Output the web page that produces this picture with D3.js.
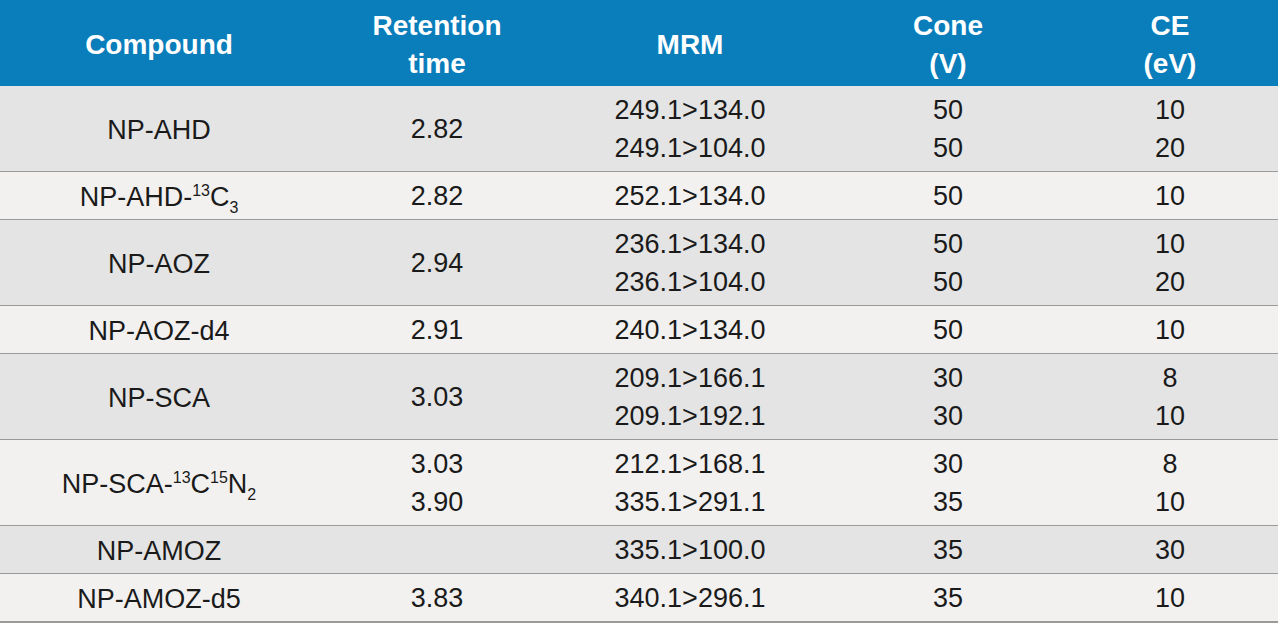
<!DOCTYPE html>
<html>
<head>
<meta charset="UTF-8">
<script src="https://cdn.jsdelivr.net/npm/d3@7"></script>
<style>
body{margin:0;background:#fff;}
text{font-family:"Liberation Sans",Arial,sans-serif;}
</style>
</head>
<body>
<script>
var w = 1280, h = 625;
var headers = [["Compound"],["Retention","time"],["MRM"],["Cone","(V)"],["CE","(eV)"]];
// ^ = superscript, _ = subscript
var compounds = [["NP-AHD"],["NP-AHD-","^13","C","_3"],["NP-AOZ"],["NP-AOZ-d4"],["NP-SCA"],
                 ["NP-SCA-","^13","C","^15","N","_2"],["NP-AMOZ"],["NP-AMOZ-d5"]];
var retention = [["2.82"],["2.82"],["2.94"],["2.91"],["3.03"],["3.03","3.90"],[],["3.83"]];
var mrm = [["249.1>134.0","249.1>104.0"],["252.1>134.0"],["236.1>134.0","236.1>104.0"],["240.1>134.0"],
           ["209.1>166.1","209.1>192.1"],["212.1>168.1","335.1>291.1"],["335.1>100.0"],["340.1>296.1"]];
var cone = [["50","50"],["50"],["50","50"],["50"],["30","30"],["30","35"],["35"],["35"]];
var ce = [["10","20"],["10"],["10","20"],["10"],["8","10"],["8","10"],["30"],["10"]];

var colX = [159, 437, 690, 948, 1170];
var headH = 86, lineH = 38;

var svg = d3.select("body").append("svg").attr("width", w).attr("height", h);

// header
svg.append("rect").attr("x",0).attr("y",0).attr("width",w-2).attr("height",headH).attr("fill","#0a7dbb");
headers.forEach(function(hd, c){
  var y0 = 44 - (hd.length-1)*lineH/2;
  hd.forEach(function(t, k){
    svg.append("text").attr("x",colX[c]).attr("y",y0+k*lineH).attr("dy","0.35em")
      .attr("text-anchor","middle").attr("fill","#fff").attr("font-weight","bold").attr("font-size",28).text(t);
  });
});

// row geometry from line counts
var rows = [], y = headH;
mrm.forEach(function(m, i){
  var rh = 10 + m.length*lineH;
  rows.push({y:y, h:rh, i:i});
  y += rh;
});

var g = svg.selectAll("g.row").data(rows).enter().append("g").attr("class","row");
g.append("rect").attr("x",0).attr("y",function(d){return d.y;}).attr("width",w-2).attr("height",function(d){return d.h;})
  .attr("fill",function(d){return d.i%2==0 ? "#e4e4e4" : "#f2f1f0";});
g.append("line").attr("x1",0).attr("x2",w-2)
  .attr("y1",function(d){return d.y+d.h;}).attr("y2",function(d){return d.y+d.h;})
  .attr("stroke","#9a9a9a").attr("stroke-width",2);

function cellLines(sel, x, arr){
  sel.each(function(d){
    var lines = arr[d.i], cy = d.y + d.h/2, y0 = cy - (lines.length-1)*lineH/2;
    var gg = d3.select(this);
    lines.forEach(function(t, k){
      gg.append("text").attr("x",x).attr("y",y0+k*lineH).attr("dy","0.35em")
        .attr("text-anchor","middle").attr("fill","#1a1a1a").attr("font-size",27).text(t);
    });
  });
}
g.each(function(d){
  var t = d3.select(this).append("text").attr("x",colX[0]).attr("y",d.y+d.h/2+9.5)
    .attr("text-anchor","middle").attr("fill","#1a1a1a").attr("font-size",27);
  var shift = 0;
  compounds[d.i].forEach(function(p){
    var target = p[0]=="^" ? -10 : p[0]=="_" ? 7 : 0;
    var ts = t.append("tspan").attr("dy", target - shift)
      .text(target ? p.slice(1) : p);
    if (target) ts.attr("font-size",16);
    shift = target;
  });
});
cellLines(g, colX[1], retention);
cellLines(g, colX[2], mrm);
cellLines(g, colX[3], cone);
cellLines(g, colX[4], ce);
</script>
</body>
</html>
